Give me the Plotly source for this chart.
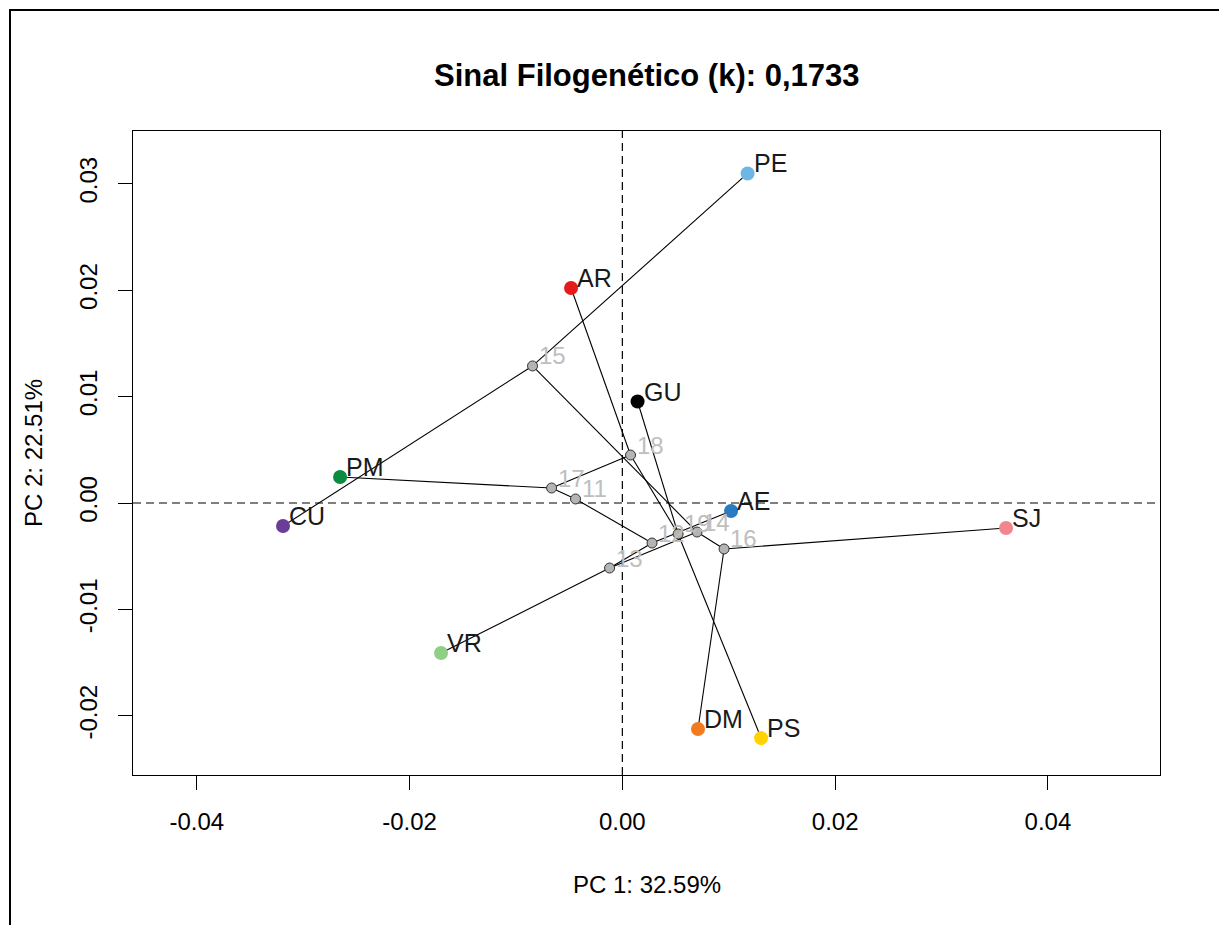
import plotly.graph_objects as go

# ---------------- data ----------------
tip_names = ["PE", "AR", "GU", "PM", "CU", "AE", "SJ", "VR", "DM", "PS"]
tip_x = [0.01177, -0.00482, 0.00143, -0.02653, -0.03189, 0.01022, 0.03606, -0.01704, 0.00711, 0.01304]
tip_y = [0.03097, 0.02021, 0.00954, 0.00244, -0.00216, -0.00075, -0.00235, -0.01410, -0.02124, -0.02209]
tip_colors = ["#6DB6E6", "#E41A1C", "#000000", "#0B8A40", "#6A3D9A",
              "#2A7BC0", "#F2858E", "#8FCF86", "#F47A20", "#FFD200"]

node_names = ["11", "12", "13", "14", "15", "16", "17", "18", "19"]
node_x = [-0.00440, 0.00279, -0.00120, 0.00702, -0.00844, 0.00956, -0.00665, 0.00077, 0.00524]
node_y = [0.00038, -0.00376, -0.00611, -0.00273, 0.01288, -0.00432, 0.00141, 0.00451, -0.00291]

edges = [("11", "12"), ("11", "17"),
         ("12", "13"), ("12", "AE"),
         ("13", "VR"), ("13", "14"),
         ("14", "15"), ("14", "16"),
         ("15", "PE"), ("15", "CU"),
         ("16", "SJ"), ("16", "DM"),
         ("17", "PM"), ("17", "18"),
         ("18", "AR"), ("18", "19"),
         ("19", "GU"), ("19", "PS")]

x_ticks = [-0.04, -0.02, 0.00, 0.02, 0.04]
x_tick_labels = ["-0.04", "-0.02", "0.00", "0.02", "0.04"]
y_ticks = [-0.02, -0.01, 0.00, 0.01, 0.02, 0.03]
y_tick_labels = ["-0.02", "-0.01", "0.00", "0.01", "0.02", "0.03"]

title_text = "Sinal Filogenético (k): 0,1733"
x_title = "PC 1: 32.59%"
y_title = "PC 2: 22.51%"

# ---------------- build ----------------
pos = {n: (x, y) for n, x, y in zip(tip_names, tip_x, tip_y)}
pos.update({n: (x, y) for n, x, y in zip(node_names, node_x, node_y)})

ex, ey = [], []
for a, b in edges:
    ex += [pos[a][0], pos[b][0], None]
    ey += [pos[a][1], pos[b][1], None]

FONT = "Liberation Sans, Arial, sans-serif"

fig = go.Figure()
fig.add_shape(type="line", xref="x", yref="paper", x0=0, x1=0, y0=0, y1=1,
              line=dict(color="black", width=1.2, dash="8px,5px"), layer="below")
fig.add_shape(type="line", xref="paper", yref="y", x0=0, x1=1, y0=0, y1=0,
              line=dict(color="black", width=1.2, dash="8px,5px"), layer="below")

fig.add_trace(go.Scatter(x=ex, y=ey, mode="lines",
                         line=dict(color="black", width=1.1), hoverinfo="skip"))
fig.add_trace(go.Scatter(x=node_x, y=node_y, mode="markers",
                         marker=dict(size=10, color="#B4B4B4",
                                     line=dict(color="#333333", width=1)),
                         hoverinfo="skip"))
fig.add_trace(go.Scatter(x=tip_x, y=tip_y, mode="markers",
                         marker=dict(size=14, color=tip_colors, line=dict(width=0)),
                         hoverinfo="skip"))

for n, x, y in zip(node_names, node_x, node_y):
    fig.add_annotation(x=x, y=y, text=n, showarrow=False, xanchor="left", yanchor="middle",
                       xshift=4, yshift=10, font=dict(family=FONT, size=24, color="#BEBEBE"))
for n, x, y in zip(tip_names, tip_x, tip_y):
    fig.add_annotation(x=x, y=y, text=n, showarrow=False, xanchor="left", yanchor="middle",
                       xshift=4, yshift=10, font=dict(family=FONT, size=25, color="#1a1a1a"))

# titles (positions given in page pixels of the plot frame: left 133, right 1160, top 131, bottom 775)
fig.add_annotation(xref="paper", yref="paper", x=0.5, y=(775 - 75) / 644, text="<b>" + title_text + "</b>",
                   showarrow=False, xanchor="center", yanchor="middle",
                   font=dict(family=FONT, size=31, color="black"))
fig.add_annotation(xref="paper", yref="paper", x=0.5, y=(775 - 884) / 644, text=x_title,
                   showarrow=False, xanchor="center", yanchor="middle",
                   font=dict(family=FONT, size=24, color="black"))
fig.add_annotation(xref="paper", yref="paper", x=(33 - 133) / 1027, y=0.5, text=y_title,
                   showarrow=False, xanchor="center", yanchor="middle", textangle=-90,
                   font=dict(family=FONT, size=24, color="black"))

# outer frame
fig.add_shape(type="rect", xref="paper", yref="paper",
              x0=(10 - 133) / 1027, x1=(1220 - 133) / 1027,
              y0=(775 - 940) / 644, y1=(775 - 10) / 644,
              line=dict(color="black", width=2), fillcolor="rgba(0,0,0,0)")

axis_common = dict(showgrid=False, zeroline=False, showline=True, mirror=True,
                   linecolor="black", linewidth=1, ticks="outside", ticklen=14,
                   tickcolor="black", tickwidth=1,
                   tickfont=dict(family=FONT, size=24, color="black"))

fig.update_xaxes(range=[-0.04599, 0.05053], tickvals=x_ticks, ticktext=x_tick_labels,
                 ticklabelstandoff=11, **axis_common)
fig.update_yaxes(range=[-0.02556, 0.03496], tickvals=y_ticks, ticktext=y_tick_labels,
                 tickangle=-90, ticklabelstandoff=11, **axis_common)

# page body adds an 8px offset, so margins are reduced accordingly
fig.update_layout(width=1227, height=925, showlegend=False,
                  margin=dict(l=125, r=75, t=123, b=158),
                  paper_bgcolor="white", plot_bgcolor="white")

fig.write_html("out.html")
